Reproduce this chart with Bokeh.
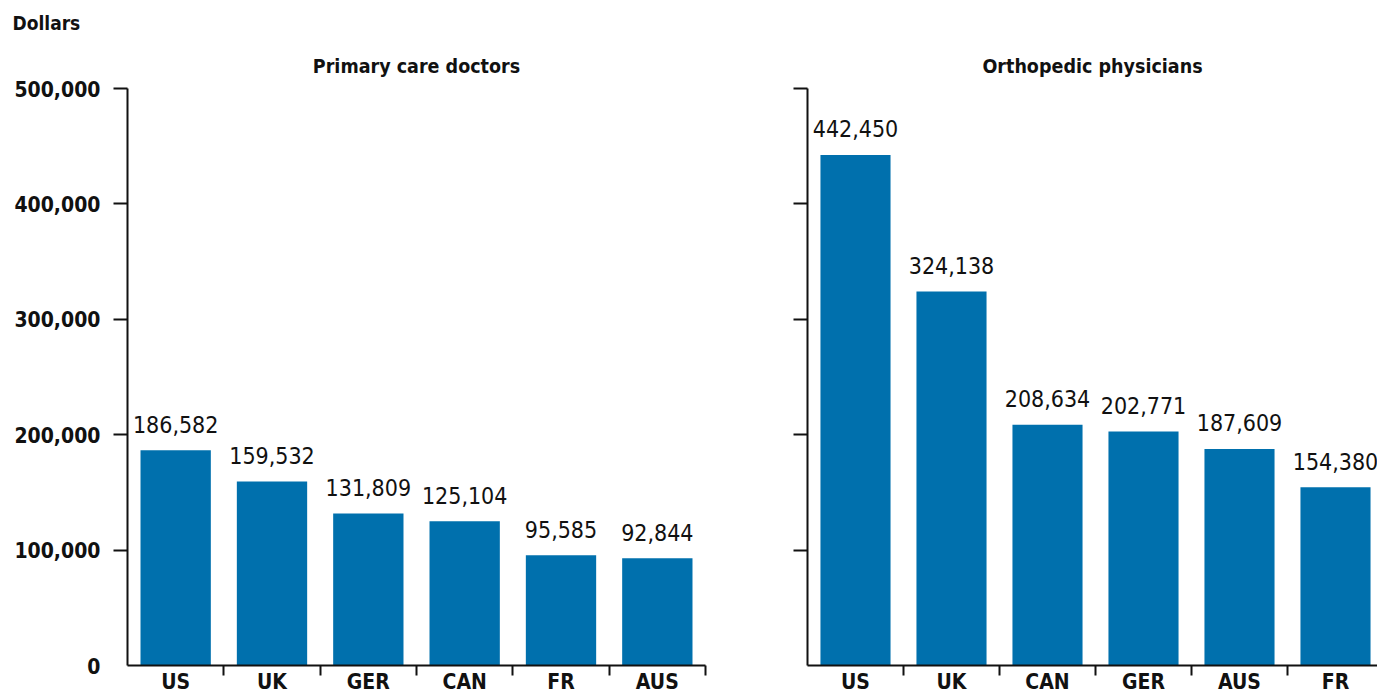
from bokeh.plotting import figure
from bokeh.models import Range1d, FixedTicker, Title, ColumnDataSource
from bokeh.layouts import row
from bokeh.embed import file_html
from bokeh.resources import INLINE
from bokeh.core.properties import value

primary_countries = ["US", "UK", "GER", "CAN", "FR", "AUS"]
primary_values = [186582, 159532, 131809, 125104, 95585, 92844]
ortho_countries = ["US", "UK", "CAN", "GER", "AUS", "FR"]
ortho_values = [442450, 324138, 208634, 202771, 187609, 154380]
y_ticks = [0, 100000, 200000, 300000, 400000, 500000]
y_tick_labels = ["0", "100,000", "200,000", "300,000", "400,000", "500,000"]

FONT = "DejaVu Sans Condensed"
BAR = "#0070ad"
INK = "#111111"
PX_PER_CAT = 96.0


def style_title(t, size="19.5px", standoff=22):
    t.text_font = FONT
    t.text_font_size = size
    t.text_font_style = "bold"
    t.text_color = INK
    t.standoff = standoff


def make_panel(title, countries, values, width, border_left, border_right, x_end,
               show_labels, title_as_layout):
    p = figure(width=width, height=696, output_backend="svg", toolbar_location=None,
               x_range=Range1d(0, x_end), y_range=Range1d(0, 500000),
               min_border_left=border_left, min_border_right=border_right,
               min_border_top=88, min_border_bottom=31)
    p.outline_line_color = None
    p.grid.visible = False
    p.background_fill_color = "white"
    p.border_fill_color = "white"
    if title_as_layout:
        t = Title(text=title, align="center")
        style_title(t)
        p.add_layout(t, "above")
    else:
        p.title.text = title
        p.title.align = "center"
        style_title(p.title)

    centers = [i + 0.5 for i in range(len(countries))]
    src = ColumnDataSource(dict(x=centers, top=values,
                                lab=[f"{v:,}" for v in values]))
    p.vbar(x="x", top="top", bottom=0, width=0.73, source=src,
           fill_color=BAR, line_color=None)
    p.text(x="x", y="top", text="lab", source=src, y_offset=-26,
           text_align="center", text_baseline="alphabetic",
           text_font=value(FONT), text_font_size="23px", text_color=INK)

    xa = p.xaxis[0]
    xa.ticker = FixedTicker(ticks=centers, minor_ticks=list(range(1, len(countries) + 1)))
    xa.major_label_overrides = {c: n for c, n in zip(centers, countries)}
    xa.major_tick_out = 0
    xa.major_tick_in = 0
    xa.minor_tick_out = 10
    xa.minor_tick_in = 0
    xa.minor_tick_line_width = 2
    xa.minor_tick_line_color = INK
    xa.axis_line_width = 2
    xa.axis_line_color = INK
    xa.major_label_standoff = -6
    xa.major_label_text_font = FONT
    xa.major_label_text_font_size = "21px"
    xa.major_label_text_font_style = "bold"
    xa.major_label_text_color = INK

    ya = p.yaxis[0]
    ya.ticker = FixedTicker(ticks=y_ticks, minor_ticks=y_ticks[1:])
    ya.major_tick_out = 0
    ya.major_tick_in = 0
    ya.minor_tick_out = 14
    ya.minor_tick_in = 0
    ya.minor_tick_line_width = 2
    ya.minor_tick_line_color = INK
    ya.axis_line_width = 2
    ya.axis_line_color = INK
    ya.major_label_text_font = FONT
    ya.major_label_text_font_style = "bold"
    ya.major_label_text_color = INK
    ya.major_label_text_font_size = "21px"
    if show_labels:
        ya.major_label_overrides = {t: l for t, l in zip(y_ticks, y_tick_labels)}
        ya.major_label_standoff = 13
    else:
        ya.major_label_overrides = {t: "" for t in y_ticks}
        ya.major_label_standoff = 0
    return p


p1 = make_panel("Primary care doctors", primary_countries, primary_values,
                735, 127, 30, 6, True, True)
p2 = make_panel("Orthopedic physicians", ortho_countries, ortho_values,
                642, 72, 0, 570 / PX_PER_CAT, False, False)

p1.title.text = "Dollars"
p1.title.align = "left"
p1.title.offset = -115
style_title(p1.title, size="19px", standoff=15)

layout = row(p1, p2)
open("out.html", "w").write(file_html(layout, INLINE))
